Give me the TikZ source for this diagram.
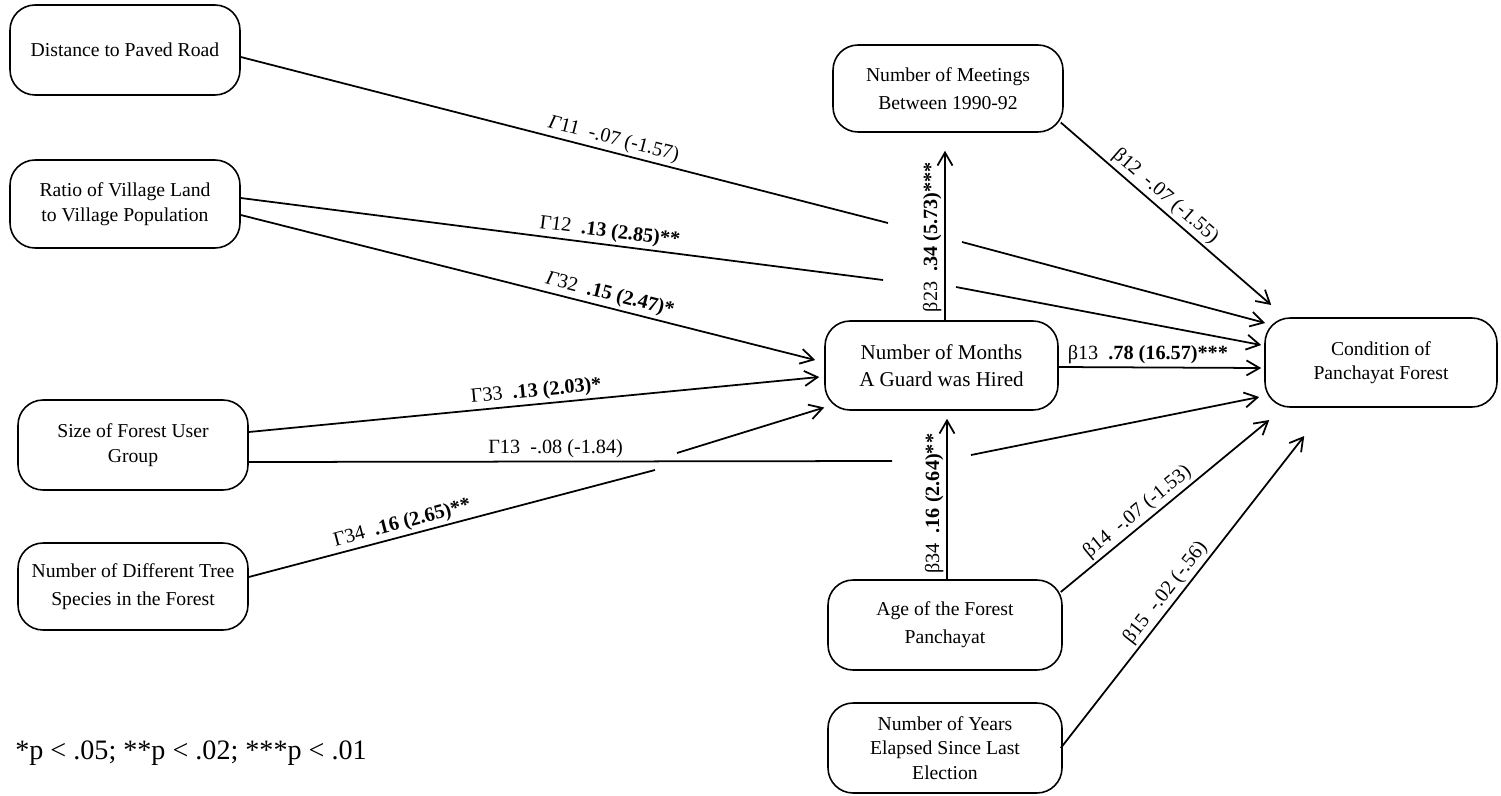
\documentclass[tikz,border=0pt]{standalone}
\usepackage{fontspec}
\setmainfont{Liberation Serif}
\usetikzlibrary{arrows.meta,calc}
\begin{document}
\begin{tikzpicture}[x=0.02cm,y=-0.02cm,
  box/.style={draw, rounded corners=0.5cm, line width=0.9pt, align=center, inner sep=0pt, font=\fontsize{11.2}{14}\selectfont},
  wide/.style={font=\fontsize{11.2}{16}\selectfont},
  conn/.style={line width=1pt, -{Straight Barb[length=2.6mm,width=3mm,line width=1pt]}},
  plain/.style={line width=1pt},
  lab/.style={sloped, above, inner sep=1.5pt, font=\fontsize{11.5}{13}\selectfont},
  labv/.style={rotate=90, anchor=south, inner sep=1.5pt, font=\fontsize{11.5}{13}\selectfont}]
\useasboundingbox (0,0) rectangle (1501,795);

% boxes
\node[box, minimum width=4.6cm, minimum height=1.8cm] (dist) at (125,50) {Distance to Paved Road};
\node[box, minimum width=4.6cm, minimum height=1.76cm] (ratio) at (125,204) {Ratio of Village Land\\to Village Population};
\node[box, minimum width=4.6cm, minimum height=1.8cm] (size) at (133,445) {Size of Forest User\\Group};
\node[box, wide, minimum width=4.6cm, minimum height=1.74cm] (tree) at (133,586.5) {Number of Different Tree\\Species in the Forest};
\node[box, wide, minimum width=4.6cm, minimum height=1.74cm] (meet) at (948,88.5) {Number of Meetings\\Between 1990-92};
\node[box, minimum width=4.66cm, minimum height=1.78cm, font=\fontsize{12}{15.4}\selectfont] (months) at (941.5,365.5) {Number of Months\\A Guard was Hired};
\node[box, minimum width=4.64cm, minimum height=1.78cm] (cond) at (1381,362.5) {Condition of\\Panchayat Forest};
\node[box, wide, minimum width=4.68cm, minimum height=1.8cm] (age) at (945,625) {Age of the Forest\\Panchayat};
\node[box, minimum width=4.68cm, minimum height=1.8cm] (years) at (945,748) {Number of Years\\Elapsed Since Last\\Election};

% free ends at the breaks of crossing lines
\coordinate (g11a) at (888,223); \coordinate (g11b) at (962,242);
\coordinate (g12a) at (883,280); \coordinate (g12b) at (956,287);
\coordinate (g13a) at (892,461); \coordinate (g13b) at (971,455);
\coordinate (g34a) at (655,470); \coordinate (g34b) at (677,453);

% Gamma paths
\draw[plain] ($(dist.east)+(0,7)$) -- node[lab,pos=0.571] (l11) {\textit{Γ}11~~-.07 (-1.57)} (g11a);
\draw[conn] (g11b) -- ($(cond.west)+(1,-39.5)$);

\draw[plain] ($(ratio.east)+(0,-6)$) -- node[lab,pos=0.572] (l12) {Γ12~~\textbf{.13 (2.85)**}} (g12a);
\draw[conn] (g12b) -- ($(cond.west)+(-3,-17.5)$);

\draw[conn] ($(ratio.east)+(0,11)$) -- node[lab,pos=0.637] (l32) {\textit{Γ}32~~\textbf{.15 (2.47)*}} ($(months.west)+(-9,-5.5)$);

\draw[conn] ($(size.east)+(0,-13)$) -- node[lab,pos=0.506] (l33) {Γ33~~\textbf{.13 (2.03)*}} ($(months.west)+(-5,11.5)$);

\draw[plain] ($(size.east)+(0,17)$) -- node[lab,pos=0.477] (l13) {Γ13~~-.08 (-1.84)} (g13a);
\draw[conn] (g13b) -- ($(cond.west)+(-5,34.5)$);

\draw[plain] ($(tree.east)+(0,-9.5)$) -- node[lab,pos=0.386] (l34) {Γ34~~\textbf{.16 (2.65)**}} (g34a);
\draw[conn] (g34b) -- ($(months.west)+(0,42)$);

% beta paths
\draw[conn] ($(months.north)+(3.5,0)$) -- node[labv,pos=0.49] (lb23) {β23~~\textbf{.34 (5.73)***}} ($(meet.south)+(-3,18)$);
\draw[conn] ($(age.north)+(2,0)$) -- node[labv,pos=0.47] (lb34) {β34~~\textbf{.16 (2.64)**}} ($(months.south)+(5.5,8)$);
\draw[conn] ($(months.east)+(0,1.5)$) -- node[lab,pos=0.44] (lb13) {β13~~\textbf{.78 (16.57)***}} ($(cond.west)+(-3,5.5)$);
\draw[conn] ($(meet.east)+(-3,34)$) -- node[lab,pos=0.457] (lb12) {β12~~-.07 (-1.55)} ($(cond.west)+(7,-57.5)$);
\draw[conn] ($(age.east)+(-2,-33)$) -- node[lab,pos=0.407] (lb14) {β14~~-.07 (-1.53)} ($(cond.west)+(5,57.5)$);
\draw[conn] ($(years.east)+(-2,0)$) -- node[lab,pos=0.472] (lb15) {β15~~-.02 (-.56)} ($(cond.west)+(40,73.5)$);

% footnote
\node[anchor=west, inner sep=0pt, font=\fontsize{16}{18}\selectfont] (note) at (15,753) {*p < .05; **p < .02; ***p < .01};
\end{tikzpicture}
\end{document}
